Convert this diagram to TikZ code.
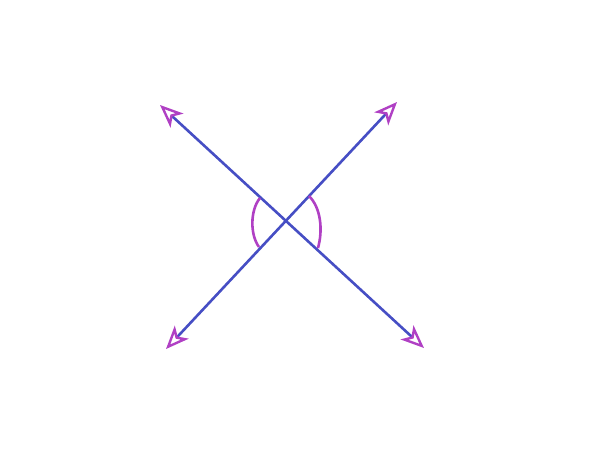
\documentclass[tikz,border=0pt]{standalone}
\usetikzlibrary{arrows.meta}
\definecolor{linecol}{RGB}{70,78,196}
\definecolor{tipcol}{RGB}{176,64,196}
\tikzset{
  tipstyle/.tip={Stealth[open,length=23pt,width=19pt,inset=6pt,color=tipcol,line width=2.4pt]},
  ray/.style={draw=linecol,line width=2.6pt,{tipstyle}-{tipstyle}},
  anglearc/.style={draw=tipcol,line width=2.6pt}
}
\begin{document}
\begin{tikzpicture}[x=1pt,y=-1pt]
\useasboundingbox (0,0) rectangle (600,450);
\coordinate (O) at (287,222);
\coordinate (A1) at (160,105);
\coordinate (A2) at (424,348);
\coordinate (B1) at (166,349);
\coordinate (B2) at (397,102);
\coordinate (L1) at (260,198);
\coordinate (L2) at (259,247);
\coordinate (R1) at (309,196);
\coordinate (R2) at (318,248);
\draw[ray] (A1) -- (A2);
\draw[ray] (B1) -- (B2);
\draw[anglearc] (L1) .. controls (250,210) and (250,235) .. (L2);
\draw[anglearc] (R1) .. controls (321,208) and (323,230) .. (R2);
\end{tikzpicture}
\end{document}
